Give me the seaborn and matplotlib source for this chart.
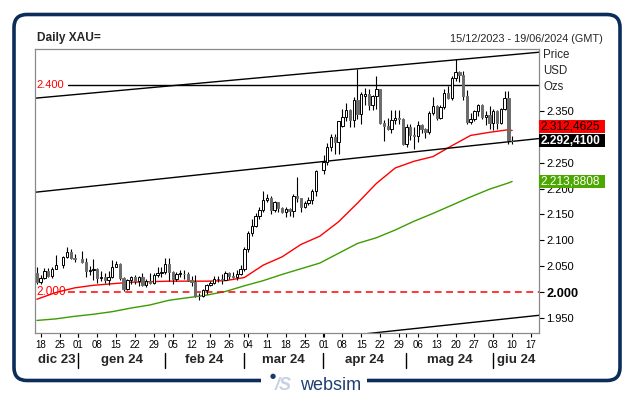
import numpy as np
import pandas as pd
import seaborn as sns
import matplotlib.pyplot as plt
from matplotlib.patches import FancyBboxPatch, Rectangle
from matplotlib import transforms

# daily XAU candles, one per business day from 15/12/2023 (None = no quote)
opens = [2036, 2019, 2027, 2040, 2031, 2045, None, 2053, 2067, 2077, 2065, None,
         2063, 2059, 2041, 2043, 2045, 2027, 2030, 2024, 2029, 2049, 2055, 2028,
         2006, 2023, 2029, 2021, 2029, 2014, 2021, 2018, 2033, 2037, 2039, 2055,
         2039, 2025, 2035, 2035, 2034, 2024, 2020, 1993, 1992, 2004, 2013, 2017,
         2025, 2026, 2024, 2036, 2031, 2030, 2034, 2044, 2083, 2114, 2128, 2148,
         2159, 2179, 2182, 2158, 2174, 2162, 2155, 2160, 2157, 2186, 2181, 2165,
         2172, 2178, 2195, None, 2236, 2251, 2280, 2300, 2291, 2322, 2339, 2352,
         2333, 2372, 2344, 2379, 2384, 2361, 2379, 2392, 2327, 2322, 2316, 2332,
         2337, 2335, 2286, 2320, 2303, 2301, 2324, 2315, 2309, 2346, 2360, 2336,
         2358, 2386, 2376, 2415, 2425, 2420, 2379, 2329, 2334, 2350, 2361, 2338,
         2343, 2327, 2350, 2327, 2355, 2375, 2293]
highs = [2048, 2033, 2047, 2047, 2049, 2071, None, 2069, 2088, 2084, 2074, None,
         2079, 2065, 2050, 2064, 2047, 2040, 2037, 2040, 2062, 2060, 2056, 2030,
         2025, 2031, 2033, 2031, 2037, 2025, 2036, 2036, 2048, 2049, 2065, 2065,
         2040, 2039, 2043, 2042, 2038, 2031, 2032, 1998, 2006, 2015, 2022, 2031,
         2031, 2034, 2041, 2038, 2039, 2042, 2052, 2088, 2119, 2141, 2152, 2165,
         2195, 2189, 2185, 2177, 2175, 2165, 2164, 2163, 2190, 2223, 2182, 2176,
         2184, 2199, 2236, None, 2266, 2288, 2305, 2305, 2331, 2354, 2365, 2354,
         2378, 2431, 2387, 2394, 2393, 2382, 2417, 2393, 2333, 2337, 2352, 2353,
         2352, 2336, 2326, 2326, 2320, 2331, 2326, 2318, 2351, 2378, 2361, 2362,
         2392, 2398, 2418, 2450, 2427, 2427, 2390, 2346, 2353, 2364, 2363, 2351,
         2360, 2354, 2353, 2357, 2388, 2388, 2302]
lows = [2015, 2016, 2025, 2029, 2027, 2044, None, 2047, 2065, 2063, 2058, None,
        2057, 2030, 2033, 2024, 2017, 2021, 2017, 2013, 2028, 2048, 2023, 2001,
        2004, 2015, 2015, 2011, 2011, 2009, 2016, 2016, 2029, 2030, 2035, 2022,
        2015, 2021, 2030, 2025, 2021, 2012, 1990, 1984, 1990, 1997, 2011, 2015,
        2019, 2016, 2023, 2025, 2027, 2024, 2033, 2040, 2077, 2109, 2126, 2141,
        2155, 2175, 2150, 2154, 2154, 2152, 2146, 2147, 2146, 2175, 2155, 2162,
        2168, 2170, 2186, None, 2229, 2245, 2272, 2268, 2267, 2320, 2330, 2320,
        2320, 2334, 2325, 2362, 2352, 2352, 2354, 2326, 2292, 2313, 2308, 2325,
        2325, 2285, 2280, 2295, 2277, 2291, 2308, 2298, 2306, 2342, 2332, 2334,
        2354, 2373, 2371, 2408, 2407, 2371, 2326, 2325, 2331, 2341, 2334, 2323,
        2315, 2314, 2316, 2326, 2352, 2286, 2287]
closes = [2019, 2027, 2040, 2031, 2045, 2053, None, 2067, 2077, 2065, 2063, None,
          2059, 2041, 2043, 2045, 2027, 2030, 2024, 2029, 2049, 2055, 2028, 2006,
          2023, 2029, 2021, 2029, 2014, 2021, 2018, 2033, 2037, 2039, 2055, 2039,
          2025, 2035, 2035, 2034, 2024, 2020, 1993, 1992, 2004, 2013, 2017, 2025,
          2026, 2024, 2036, 2031, 2030, 2034, 2044, 2083, 2114, 2128, 2148, 2159,
          2179, 2182, 2158, 2174, 2162, 2155, 2160, 2157, 2186, 2181, 2165, 2172,
          2178, 2195, 2234, None, 2251, 2280, 2300, 2291, 2330, 2339, 2352, 2333,
          2372, 2344, 2383, 2384, 2361, 2379, 2392, 2327, 2322, 2316, 2332, 2337,
          2335, 2286, 2320, 2303, 2301, 2324, 2315, 2309, 2346, 2360, 2336, 2358,
          2386, 2376, 2415, 2425, 2420, 2379, 2329, 2334, 2350, 2361, 2338, 2343,
          2327, 2350, 2327, 2355, 2375, 2294, 2292.41]

# moving averages (day index -> value)
ma_days = [0, 5, 10, 15, 20, 25, 30, 35, 40, 45, 50, 55, 60, 65, 70, 75, 80,
           85, 90, 95, 100, 105, 110, 115, 120, 125, 126]
ma_red = [1986, 1999, 2008, 2013, 2016, 2019, 2020, 2021, 2021, 2021, 2022, 2028,
          2052, 2068, 2092, 2108, 2136, 2172, 2210, 2240, 2253, 2262, 2283, 2303,
          2309, 2314, 2312.46]
ma_green = [1945, 1948, 1953, 1957, 1962, 1969, 1975, 1984, 1989, 1994, 2001, 2012,
            2022, 2034, 2045, 2056, 2075, 2094, 2105, 2120, 2137, 2152, 2168, 2184,
            2199, 2211, 2213.88]

# drawn trendlines: [day0, price0, day1, price1]
trend_top = [-0.5, 2375, 133.2, 2464]
trend_mid = [-0.5, 2193, 133.2, 2297]
trend_low = [-0.5, 1851, 133.2, 1955]
level_black = 2400
level_red = 2000

last_price = 2292.41
red_value = 2312.4625
green_value = 2213.8808

month_names = ["dic 23", "gen 24", "feb 24", "mar 24", "apr 24", "mag 24", "giu 24"]
y_ticks = [1950, 2000, 2050, 2100, 2150, 2200, 2250, 2300, 2350]
hidden_ticks = [2300]  # sits under the value boxes

days = pd.bdate_range("2023-12-15", "2024-06-19")
x_lo, x_hi = -0.5, 133.2
y_lo, y_hi = 1920.7, 2470.2

sns.set_style("white")
plt.rcParams['font.family'] = ['Liberation Sans', 'DejaVu Sans']

fig = plt.figure(figsize=(6.34, 3.97), dpi=100)
ax = fig.add_axes([35 / 634, 1 - 333 / 397, 504.3 / 634, 284 / 397])

o = np.array(opens, dtype=float)
h = np.array(highs, dtype=float)
l = np.array(lows, dtype=float)
c = np.array(closes, dtype=float)
idx = np.arange(len(o))
ok = ~np.isnan(o)
up = ok & (c >= o)
dn = ok & (c < o)

ax.vlines(idx[ok], l[ok], h[ok], color="black", lw=0.8, zorder=3)
ax.bar(idx[up], np.maximum(c - o, 0.9)[up], bottom=o[up], width=0.62,
       color="white", edgecolor="black", lw=0.7, zorder=4)
ax.bar(idx[dn], (o - c)[dn], bottom=c[dn], width=0.62,
       color="#6b6b6b", edgecolor="#6b6b6b", lw=0.7, zorder=4)

sns.lineplot(x=ma_days, y=ma_red, color="#ff0000", lw=1, ax=ax, zorder=2)
sns.lineplot(x=ma_days, y=ma_green, color="#3c9c00", lw=1, ax=ax, zorder=2)

for t in (trend_top, trend_mid, trend_low):
    ax.plot([t[0], t[2]], [t[1], t[3]], color="black", lw=1, zorder=2)

ax.plot([8.3, x_hi], [level_black, level_black], color="black", lw=1, zorder=2)
ax.plot([8.3, x_hi], [level_red, level_red], color="#ff0000", lw=1.1,
        dashes=(4.5, 3), zorder=2)
ax.text(0.0, level_black, "2.400", color="#ff0000", fontsize=8, va="center")
ax.text(0.0, level_red, "2.000", color="#ff0000", fontsize=8.5, va="center")

ax.set_xlim(x_lo, x_hi)
ax.set_ylim(y_lo, y_hi)

for s in ax.spines.values():
    s.set_color("#8a8a8a")
    s.set_linewidth(0.9)

# y axis on the right
ax.yaxis.tick_right()
ax.set_yticks(y_ticks)
ax.set_yticklabels(["" if v in hidden_ticks else f"{v / 1000:.3f}" for v in y_ticks])
ax.tick_params(axis="y", right=True, length=3.5, width=0.8, pad=1.5,
               labelsize=8, colors="black")
for lab, v in zip(ax.get_yticklabels(), y_ticks):
    if v == 2000:
        lab.set_fontweight("bold")
        lab.set_fontsize(9.2)

for txt, yp in (("Price", 55), ("USD", 71), ("Ozs", 87)):
    ax.text(1.0075, (333 - yp) / 284, txt, transform=ax.transAxes,
            fontsize=8.3, va="center", ha="left")

# value boxes
blend = transforms.blended_transform_factory(ax.transAxes, ax.transData)
upp = (y_hi - y_lo) / 284
box_w = 66 / 504.3
hh = 6.6 * upp
boxes = [
    (last_price + 14.2 * upp, "2.312,4625", "#ff0000", "black", "normal"),
    (last_price, "2.292,4100", "black", "white", "bold"),
    (green_value, "2.213,8808", "#4ca800", "white", "normal"),
]
for yv, txt, fc, tc, fw in boxes:
    ax.add_patch(Rectangle((1.0, yv - hh), box_w, 2 * hh, transform=blend,
                           clip_on=False, fc=fc, ec="none", zorder=6))
    ax.text(1.0 + 1.5 / 504.3, yv, txt, transform=blend, color=tc,
            fontsize=8.6, fontweight=fw, va="center", ha="left", zorder=7)

# x axis: weekly day ticks, month bands
mondays = [i for i, d in enumerate(days) if d.weekday() == 0]
ax.set_xticks(mondays)
ax.set_xticklabels([days[i].strftime("%d") for i in mondays])
seps = [i - 0.05 for i in range(1, len(days)) if days[i].month != days[i - 1].month]
ax.set_xticks(seps, minor=True)
ax.tick_params(axis="x", which="both", bottom=True, length=3, width=0.8,
               pad=2, labelsize=7, colors="black")

xblend = transforms.blended_transform_factory(ax.transData, ax.transAxes)
bounds = [x_lo] + seps + [x_hi]
for k, name in enumerate(month_names):
    ax.text((bounds[k] + bounds[k + 1]) / 2, (333 - 360) / 284, name,
            transform=xblend, ha="center", va="center", fontsize=9.5,
            fontweight="bold")
for s in seps:
    ax.plot([s, s], [(333 - 353) / 284, (333 - 368) / 284], transform=xblend,
            color="black", lw=1, clip_on=False)

# header
fig.text(37 / 634, 1 - 38.5 / 397, "Daily XAU=", fontsize=8.6, fontweight="bold",
         va="center", ha="left")
fig.text(603 / 634, 1 - 38.5 / 397, "15/12/2023 - 19/06/2024 (GMT)", fontsize=7.8,
         va="center", ha="right")

# outer rounded frame with logo gap
frame = FancyBboxPatch((0.14, (397 - 380.5) / 100), 6.06, 3.66,
                       boxstyle="round,pad=0,rounding_size=0.13",
                       transform=fig.dpi_scale_trans, fc="none", ec="#0c2d5a",
                       lw=2.6, zorder=0)
fig.patches.append(frame)
gap = Rectangle((2.61, (397 - 385) / 100), 1.06, 0.09,
                transform=fig.dpi_scale_trans, fc="white", ec="none", zorder=1)
fig.patches.append(gap)
fig.text(270 / 634, 1 - 376 / 397, "\u25cf", fontsize=5, color="#1c3a6b",
         va="center", ha="left", family=["DejaVu Sans"])
fig.text(275 / 634, 1 - 385.5 / 397, "/S", fontsize=13, color="#c7d1e1",
         fontstyle="italic", fontweight="bold", va="center", ha="left")
fig.text(300 / 634, 1 - 385.5 / 397, "websim", fontsize=13, color="#1f3f74",
         va="center", ha="left")

fig.savefig("out.png", dpi=100)
